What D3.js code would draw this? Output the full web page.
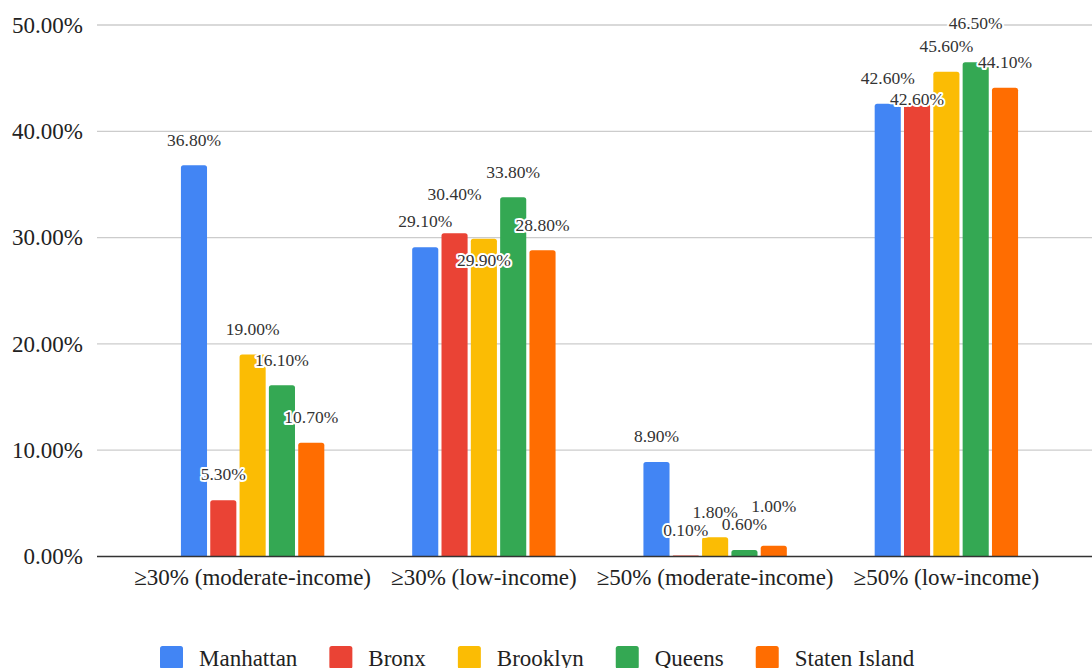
<!DOCTYPE html>
<html>
<head>
<meta charset="utf-8">
<script src="https://cdn.jsdelivr.net/npm/d3@7"></script>
<style>
  body { margin: 0; background: #fff; }
  svg { display: block; }
  svg text { font-family: "Liberation Serif", "Times New Roman", Times, "DejaVu Serif", serif; }
</style>
</head>
<body>
<svg id="chart" width="1092" height="668"></svg>
<script>
// data
var categories = ["\u226530% (moderate-income)", "\u226530% (low-income)", "\u226550% (moderate-income)", "\u226550% (low-income)"];
var boroughs = ["Manhattan", "Bronx", "Brooklyn", "Queens", "Staten Island"];
var colors = ["#4285F4", "#EA4335", "#FBBC04", "#34A853", "#FF6D01"];
var manhattan = [36.8, 29.1, 8.9, 42.6];
var bronx = [5.3, 30.4, 0.1, 42.6];
var brooklyn = [19.0, 29.9, 1.8, 45.6];
var queens = [16.1, 33.8, 0.6, 46.5];
var statenIsland = [10.7, 28.8, 1.0, 44.1];
var yTicks = [0, 10, 20, 30, 40, 50];

var series = [manhattan, bronx, brooklyn, queens, statenIsland];

var svg = d3.select("#chart"),
    width = +svg.attr("width"),
    height = +svg.attr("height"),
    plotLeft = 97, plotRight = 1092;

var y = d3.scaleLinear()
    .domain([0, 50])
    .range([556.5, 25]);

var x0 = d3.scaleBand()
    .domain(categories)
    .range([137, 1062])
    .paddingInner(0.366)
    .paddingOuter(0.183);

var x1 = d3.scaleBand()
    .domain(boroughs)
    .range([0, x0.bandwidth()])
    .paddingInner(0.11)
    .paddingOuter(0.055);

// gridlines
svg.append("g")
    .selectAll("line")
    .data(yTicks.filter(function(d) { return d > 0; }))
    .enter().append("line")
    .attr("x1", plotLeft)
    .attr("x2", plotRight)
    .attr("y1", function(d) { return y(d); })
    .attr("y2", function(d) { return y(d); })
    .attr("stroke", "#cccccc")
    .attr("stroke-width", 1.3);

// y axis labels
var yAxis = svg.append("g")
    .attr("transform", "translate(" + plotLeft + ",0)")
    .call(d3.axisLeft(y).tickValues(yTicks).tickSize(0).tickPadding(14)
        .tickFormat(function(d) { return d.toFixed(2) + "%"; }));
yAxis.select(".domain").remove();
yAxis.selectAll("text")
    .attr("font-size", 23)
    .attr("fill", "#222");

// bars with slightly rounded tops
function barPath(x, top, w, bottom) {
    var r = Math.min(2.5, (bottom - top) / 2);
    return "M" + x + "," + bottom +
        "V" + (top + r) +
        "Q" + x + "," + top + " " + (x + r) + "," + top +
        "H" + (x + w - r) +
        "Q" + (x + w) + "," + top + " " + (x + w) + "," + (top + r) +
        "V" + bottom + "Z";
}

var groups = svg.append("g")
    .selectAll("g")
    .data(categories)
    .enter().append("g")
    .attr("transform", function(d) { return "translate(" + x0(d) + ",0)"; });

groups.selectAll("path")
    .data(function(c, ci) {
        return boroughs.map(function(b, bi) { return {b: b, i: bi, v: series[bi][ci]}; });
    })
    .enter().append("path")
    .attr("fill", function(d) { return colors[d.i]; })
    .attr("d", function(d) { return barPath(x1(d.b), y(d.v), x1.bandwidth(), y(0)); });

// x baseline
svg.append("line")
    .attr("x1", plotLeft)
    .attr("x2", plotRight)
    .attr("y1", y(0))
    .attr("y2", y(0))
    .attr("stroke", "#333")
    .attr("stroke-width", 1.6);

// category labels
var xAxis = svg.append("g")
    .attr("transform", "translate(0," + y(0) + ")")
    .call(d3.axisBottom(x0).tickSize(0).tickPadding(12));
xAxis.select(".domain").remove();
xAxis.selectAll("text")
    .attr("font-size", 23)
    .attr("fill", "#222");

// value labels, nudged when they bump into each other (like the annotations do)
var labelPad = 8, labelH = 15, shifts = [0, -14, 21, 47];
var labels = svg.append("g");
categories.forEach(function(c, ci) {
    var placed = [];
    boroughs.forEach(function(b, bi) {
        var v = series[bi][ci];
        var cx = x0(c) + x1(b) + x1.bandwidth() / 2;
        var base = y(v) - 26;
        var t = labels.append("text")
            .attr("x", cx)
            .attr("dy", "0.36em")
            .attr("text-anchor", "middle")
            .attr("font-size", 17.5)
            .attr("fill", "#333")
            .attr("stroke", "#fff")
            .attr("stroke-width", 4)
            .attr("stroke-linejoin", "round")
            .attr("paint-order", "stroke")
            .text(v.toFixed(2) + "%");
        var w = t.node().getComputedTextLength();
        var cy = base;
        for (var k = 0; k < shifts.length; k++) {
            var test = base + shifts[k];
            if (test > y(0) - 14) continue;
            var hit = placed.some(function(p) {
                return Math.abs(p.x - cx) < (p.w + w) / 2 + labelPad && Math.abs(p.y - test) < labelH;
            });
            if (!hit) { cy = test; break; }
        }
        placed.push({x: cx, y: cy, w: w});
        t.attr("y", cy);
    });
});

// legend
var legend = svg.append("g");
var lx = 160;
boroughs.forEach(function(b, i) {
    legend.append("rect")
        .attr("x", lx)
        .attr("y", 646)
        .attr("width", 23)
        .attr("height", 23)
        .attr("rx", 2.5)
        .attr("fill", colors[i]);
    var t = legend.append("text")
        .attr("x", lx + 39)
        .attr("y", 666)
        .attr("font-size", 23)
        .attr("fill", "#222")
        .text(b);
    lx += 39 + t.node().getComputedTextLength() + 32;
});
</script>
</body>
</html>
